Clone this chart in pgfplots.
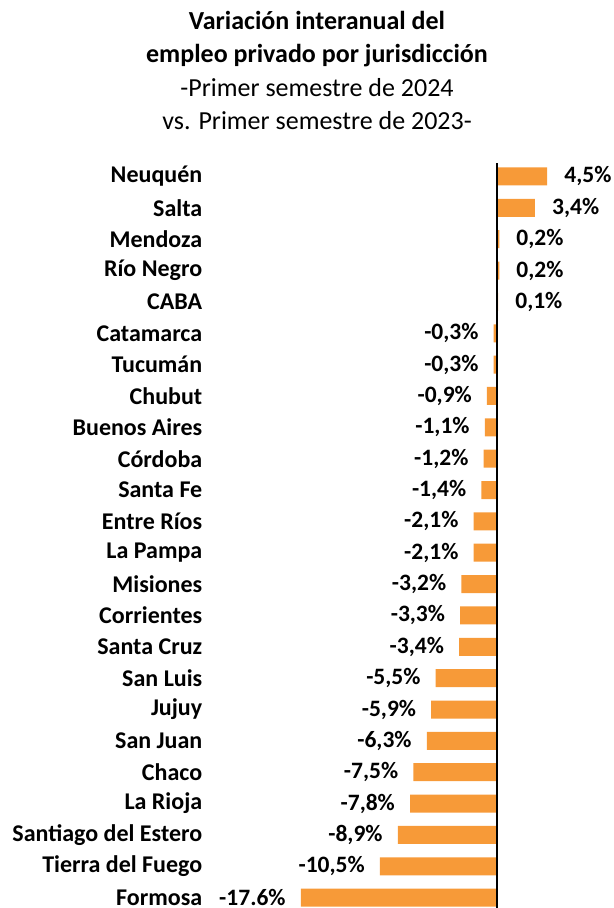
\documentclass[border=0pt]{standalone}
\usepackage{pgfplots}
\pgfplotsset{compat=1.18}
\usepackage{pgfplotstable}
\usepackage{fontspec}
\setmainfont{Carlito}
\definecolor{barorange}{RGB}{247,154,56}

\pgfplotstableread{
y x lab
0 -17.6 -17.6
1 -10.5 -10,5
2 -8.9 -8,9
3 -7.8 -7,8
4 -7.5 -7,5
5 -6.3 -6,3
6 -5.9 -5,9
7 -5.5 -5,5
8 -3.4 -3,4
9 -3.3 -3,3
10 -3.2 -3,2
11 -2.1 -2,1
12 -2.1 -2,1
13 -1.4 -1,4
14 -1.2 -1,2
15 -1.1 -1,1
16 -0.9 -0,9
17 -0.3 -0,3
18 -0.3 -0,3
}\negtable

\pgfplotstableread{
y x lab
19 0.1 0,1
20 0.2 0,2
21 0.2 0,2
22 3.4 3,4
23 4.5 4,5
}\postable

\begin{document}
\begin{tikzpicture}
\path[use as bounding box] (0,0) rectangle (614bp,908bp);
\node[anchor=base, font=\bfseries\fontsize{26bp}{30bp}\selectfont] at (317bp,{908bp-30bp}) {Variación interanual del};
\node[anchor=base, font=\bfseries\fontsize{26bp}{30bp}\selectfont] at (317bp,{908bp-63bp}) {empleo privado por jurisdicción};
\node[anchor=base, font=\fontsize{26bp}{30bp}\selectfont] at (317bp,{908bp-97bp}) {-Primer semestre de 2024};
\node[anchor=base, font=\fontsize{26bp}{30bp}\selectfont] at (317bp,{908bp-130bp}) {vs. Primer semestre de 2023-};
\begin{axis}[
  at={(210bp,0bp)}, anchor=south west,
  scale only axis, width=404bp, height=745bp,
  xmin=-25.74, xmax=10.49, ymin=-0.33, ymax=23.43,
  xbar, bar width=18bp, bar shift=0pt,
  axis x line=none,
  axis y line*=left,
  y axis line style={draw=none},
  ytick style={draw=none},
  ytick={0,...,23},
  yticklabels={Formosa,Tierra del Fuego,Santiago del Estero,La Rioja,Chaco,San Juan,Jujuy,San Luis,Santa Cruz,Corrientes,Misiones,La Pampa,Entre Ríos,Santa Fe,Córdoba,Buenos Aires,Chubut,Tucumán,Catamarca,CABA,Río Negro,Mendoza,Salta,Neuquén},
  yticklabel style={font=\bfseries\fontsize{24bp}{28bp}\selectfont, text=black, inner ysep=0pt},
  point meta=explicit symbolic,
  nodes near coords={\pgfplotspointmeta\%},
  every node near coord/.append style={font=\bfseries\fontsize{23.5bp}{28bp}\selectfont, inner ysep=0pt, text=black},
]
\addplot[draw=none, fill=barorange,
  every node near coord/.append style={anchor=east, inner xsep=15bp}]
  table[x=x, y=y, meta=lab] {\negtable};
\addplot[draw=none, fill=barorange,
  every node near coord/.append style={anchor=west, inner xsep=17bp}]
  table[x=x, y=y, meta=lab] {\postable};
\draw[black, line width=1.5bp] (axis cs:0,-0.33) -- (axis cs:0,23.43);
\end{axis}
\end{tikzpicture}
\end{document}
